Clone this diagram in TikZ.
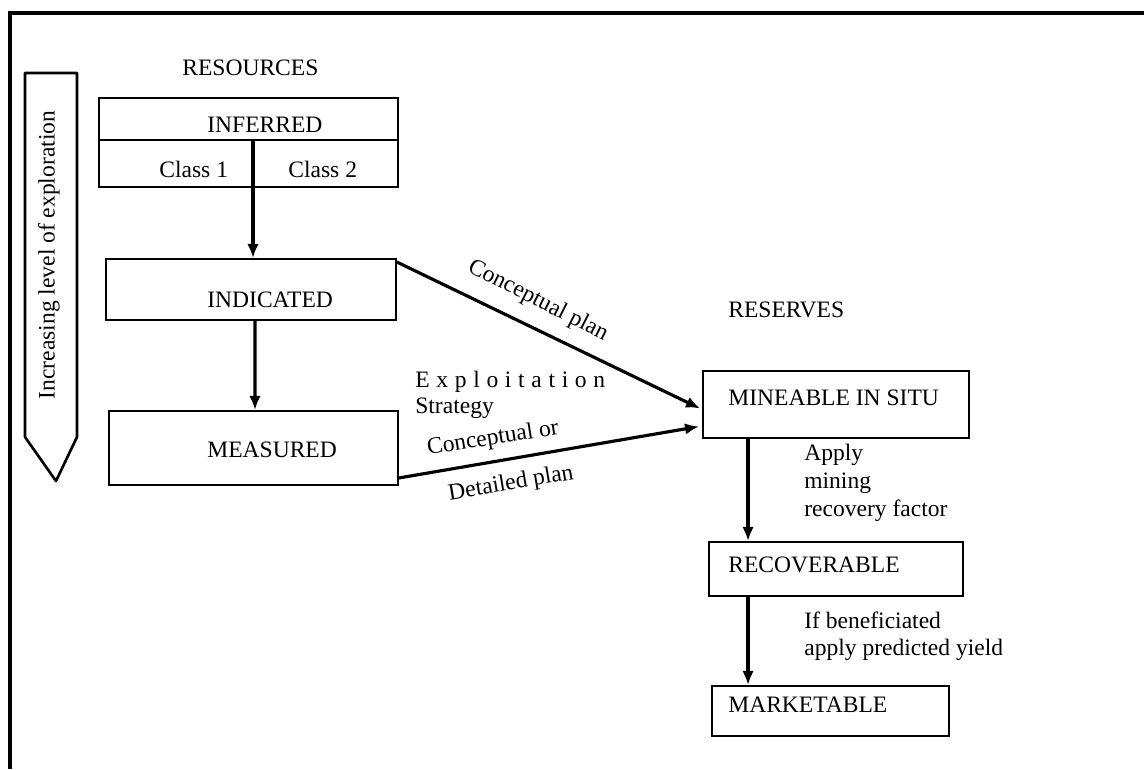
\documentclass[tikz,border=0pt]{standalone}
\usepackage{fontspec}
\setmainfont{Liberation Serif}
\usetikzlibrary{calc,arrows.meta}

\tikzset{
  box/.style={draw, line width=1.1pt, inner sep=0pt},
  txt/.style={anchor=base west, inner sep=0pt},
  arr/.style={line width=1.8pt, -{Latex[length=8pt,width=6.5pt]}},
}

\begin{document}
\begin{tikzpicture}[x=0.02cm,y=-0.02cm,font=\fontsize{13.4}{16}\selectfont]
    \useasboundingbox (0,0) rectangle (1144,769);

    % frame, open at right and bottom
    \draw[line width=2pt] (10,769) -- (10,13) -- (1144,13);

    % exploration banner
    \draw[line width=1.5pt, line join=round] (25,73) -- (77,73) -- (77,437) -- (56,481) -- (25,437) -- cycle;
    \node[rotate=90] (explore) at (49,255) {Increasing level of exploration};

    % resources
    \node[txt] (resources) at (182,75) {RESOURCES};
    \node[box, minimum width=5.98cm, minimum height=1.78cm] (inferred) at (248.5,142.5) {};
    \draw[line width=1.1pt] ($(inferred.north west)+(0,43)$) -- ($(inferred.north east)+(0,43)$);
    \node[txt] (inferredtxt) at (207,132) {INFERRED};
    \node[txt] (classone) at (159,177) {Class 1};
    \node[txt] (classtwo) at (288,177) {Class 2};

    \node[box, minimum width=5.8cm, minimum height=1.22cm] (indicated) at (251,289.5) {};
    \node[txt] (indicatedtxt) at (207,307) {INDICATED};

    \node[box, minimum width=5.78cm, minimum height=1.48cm] (measured) at (253.5,448) {};
    \node[txt] (measuredtxt) at (207,457) {MEASURED};

    \coordinate (split) at (253,141);
    \draw[arr] (split) -- (split |- indicated.north);
    \draw[arr] ($(indicated.south)+(4,0)$) -- ($(measured.north)+(1.5,0)$);

    % reserves
    \node[txt] (reserves) at (728,317) {RESERVES};
    \node[box, minimum width=5.32cm, minimum height=1.34cm] (mineable) at (836,404.5) {};
    \node[txt] (mineabletxt) at (728,405) {MINEABLE IN SITU};

    \node[box, minimum width=5.08cm, minimum height=1.08cm] (recoverable) at (836,569) {};
    \node[txt] (recoverabletxt) at (728,572) {RECOVERABLE};

    \node[box, minimum width=4.74cm, minimum height=1.0cm] (marketable) at (830.5,711) {};
    \node[txt] (marketabletxt) at (728,712) {MARKETABLE};

    \draw[arr] ($(mineable.south west)+(46,0)$) coordinate (mdown) -- (mdown |- recoverable.north);
    \draw[arr] ($(recoverable.south west)+(40,0)$) coordinate (rdown) -- (rdown |- marketable.north);

    \node[txt] (apply) at (804,460) {Apply};
    \node[txt] (mining) at (804,488) {mining};
    \node[txt] (factor) at (804,516) {recovery factor};
    \node[txt] (benef) at (804,628) {If beneficiated};
    \node[txt] (yield) at (804,655) {apply predicted yield};

    % plans
    \draw[arr] ($(indicated.north east)+(0,4)$) -- ($(mineable.west)+(-2,4)$);
    \draw[arr] ($(measured.south east)+(0,-8)$) -- ($(mineable.west)+(-3,22)$);

    \node[rotate=-27] (concplan) at (538,301) {Conceptual plan};
    \node[txt] (exploit) at (415,387) {E\kern3.8pt x\kern3.8pt p\kern3.8pt l\kern3.8pt o\kern3.8pt i\kern3.8pt t\kern3.8pt a\kern3.8pt t\kern3.8pt i\kern3.8pt o\kern3.8pt n};
    \node[txt] (strategy) at (415,413) {Strategy};
    \node[rotate=9] (concor) at (493,439) {Conceptual or};
    \node[rotate=9.5] (detplan) at (511,484) {Detailed plan};

\end{tikzpicture}
\end{document}
